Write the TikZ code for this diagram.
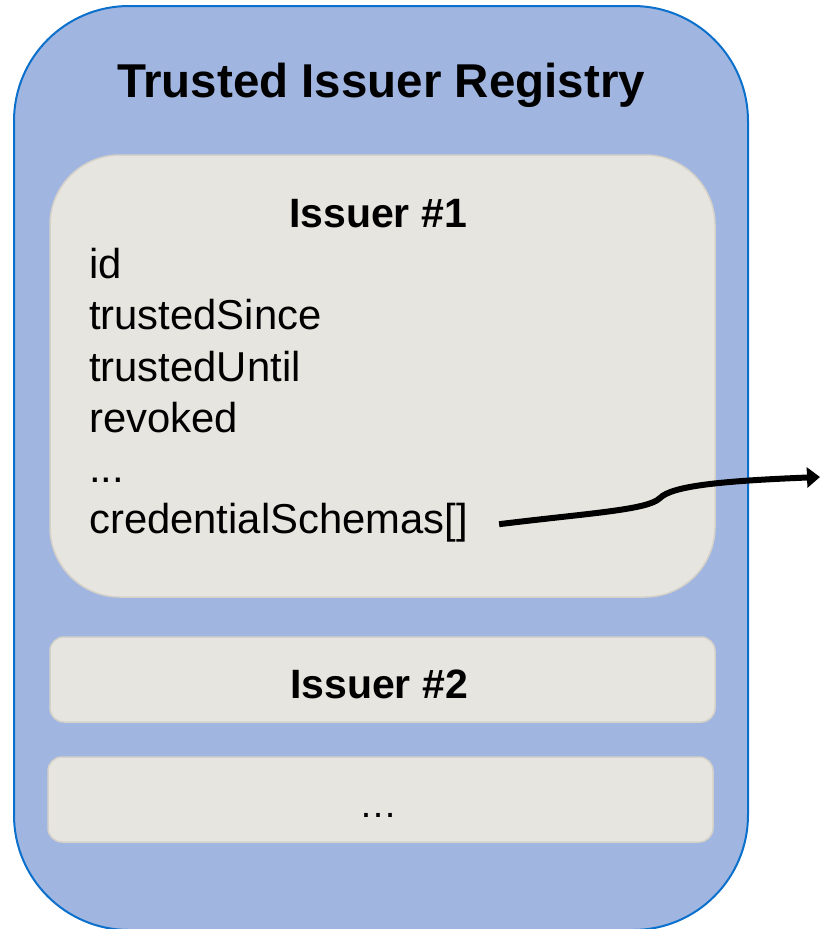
\documentclass[tikz,border=0pt]{standalone}
\usepackage{fontspec}
\setmainfont{Liberation Sans}
\usetikzlibrary{arrows.meta}
\definecolor{regfill}{HTML}{A1B5E1}
\definecolor{regline}{HTML}{0A70CC}
\definecolor{issfill}{HTML}{E7E5DF}
\definecolor{issline}{HTML}{D5D2C9}

\begin{document}
\begin{tikzpicture}[x=1pt,y=-1pt,
  registry/.style={fill=regfill,draw=regline,line width=2pt,rounded corners=115pt},
  issuerbox/.style={fill=issfill,draw=issline,line width=1.5pt},
  heading/.style={font=\fontsize{41}{49}\selectfont\bfseries,inner sep=0pt,anchor=base},
  field/.style={font=\fontsize{41.8}{50}\selectfont,inner sep=0pt,anchor=base west}]
  \useasboundingbox (0,0) rectangle (820,929);

  % registry and its issuers
  \draw[registry] (14,6) rectangle (748,930);
  \draw[issuerbox,rounded corners=70pt] (50,155) rectangle (715,597);
  \draw[issuerbox,rounded corners=14pt] (50,637) rectangle (715,722);
  \draw[issuerbox,rounded corners=14pt] (48,757) rectangle (713,842);

  \node[heading,font=\fontsize{47.5}{56}\selectfont\bfseries] (title) at (381,97) {Trusted Issuer Registry};
  \node[heading] (iss1) at (378,227) {Issuer \#1};
  \node[heading] (iss2) at (379,698) {Issuer \#2};
  \node[heading,font=\fontsize{38}{46}\selectfont] (more) at (378,817) {…};

  % fields of issuer 1
  \node[field] (id) at (89,278) {id};
  \node[field] (since) at (89,329) {trustedSince};
  \node[field] (until) at (89,381) {trustedUntil};
  \node[field] (rev) at (89,432) {revoked};
  \node[field] (dots) at (89,482) {...};
  \node[field] (cs) at (89,533) {credentialSchemas[]};

  \coordinate (out) at (820,477);
  \draw[line width=6pt,-{Triangle[length=13pt,width=20pt]}]
    ([xshift=31pt,yshift=-2pt]cs.east) .. controls (590,513) and (648,510) .. (660,498)
    .. controls (672,486) and (720,481) .. (out);
\end{tikzpicture}
\end{document}
